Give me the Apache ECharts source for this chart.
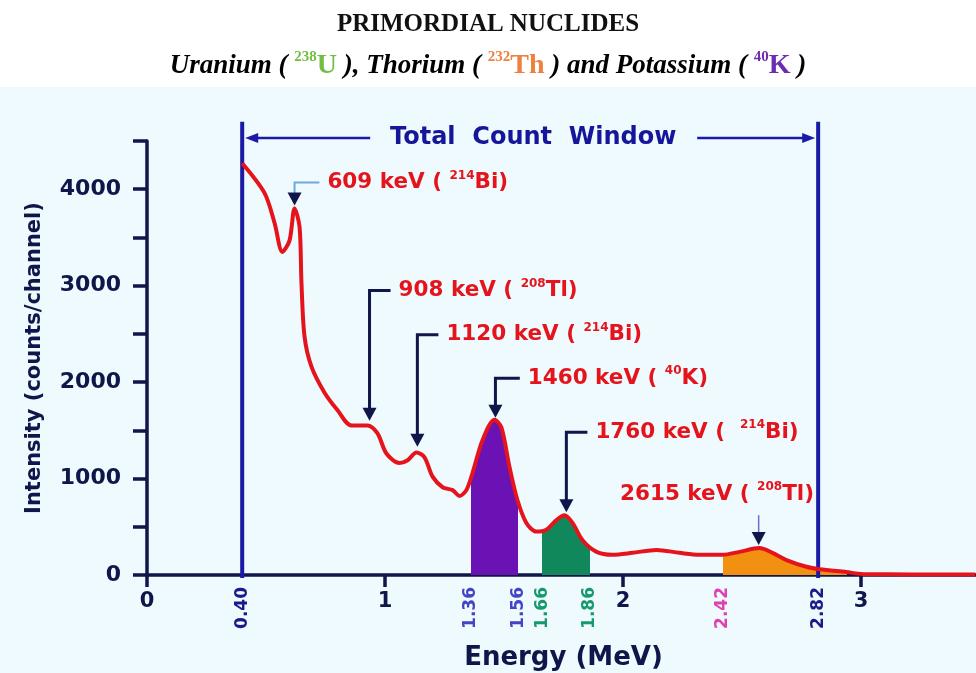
<!DOCTYPE html>
<html><head><meta charset="utf-8">
<script src="https://cdn.jsdelivr.net/npm/echarts@6/dist/echarts.min.js"></script>
<style>html,body{margin:0;padding:0;background:#fff}#main{width:976px;height:673px}</style>
</head><body><div id="main"></div>
<script>
// ---- data ----
const energy = [0.40,0.494,0.536,0.569,0.599,0.620,0.641,0.649,0.662,0.691,0.746,0.800,0.859,0.926,0.968,1.006,1.061,1.095,1.132,1.166,1.200,1.242,1.284,1.313,1.342,1.368,1.410,1.460,1.489,1.523,1.556,1.594,1.636,1.678,1.720,1.754,1.788,1.830,1.889,1.956,2.040,2.141,2.237,2.321,2.418,2.489,2.573,2.628,2.687,2.771,2.826,2.939,3.006,3.48];
const counts = [4270,3960,3650,3350,3470,3800,3610,3030,2470,2160,1890,1710,1550,1550,1470,1260,1160,1190,1270,1220,1020,910,880,820,880,1060,1400,1610,1530,1120,780,540,450,470,570,620,540,360,240,210,230,260,230,210,210,240,280,230,155,85,60,30,10,5];
const totalWindow = [0.40, 2.82];
const kWindow = [1.36, 1.56];
const uWindow = [1.66, 1.86];
const thWindow = [2.42, 2.94];
const xTickValues = [0, 1, 2, 3];
const windowTickValues = [0.40, 1.36, 1.56, 1.66, 1.86, 2.42, 2.82];
const windowTickLabels = ['0.40', '1.36', '1.56', '1.66', '1.86', '2.42', '2.82'];
const windowTickGroups = ['t', 'k', 'k', 'u', 'u', 'th', 't'];
const yTickMax = 4500;
const yTickStep = 500;
const peakLabels = ['609 keV', '908 keV', '1120 keV', '1460 keV', '1760 keV', '2615 keV'];
const peakMass = ['214', '208', '214', '40', '214', '208'];
const peakNuclide = ['Bi', 'Tl', 'Bi', 'K', 'Bi', 'Tl'];
const peakEnergy = [0.62, 0.935, 1.136, 1.464, 1.762, 2.57];
const peakTipCounts = [3830, 1600, 1330, 1630, 650, 310];

// ---- layout (annotation placement, data coordinates) ----
const annLayout = [
  {level: 4070, textX: 0.758, leader: '#6fa8dc', lw: 2},
  {level: 2950, textX: 1.057, leader: '#10154a', lw: 3},
  {level: 2490, textX: 1.258, leader: '#10154a', lw: 3},
  {level: 2040, textX: 1.600, leader: '#10154a', lw: 3},
  {level: 1480, textX: 1.884, leader: '#10154a', lw: 3, gap: '  '},
  {level: 620, textX: 2.395, textY: 840, leader: '#6f6fc8', lw: 1.5, straight: true}
];

const NAVY = '#10154a';
const RED = '#e5141c';
const FONT = '"DejaVu Sans", sans-serif';

const chart = echarts.init(document.getElementById('main'));
const curve = energy.map((e, i) => [e, counts[i]]);

function renderWindow(params, api) {
  const a0 = api.coord([totalWindow[0], -30]), a1 = api.coord([totalWindow[0], 4700]);
  const b0 = api.coord([totalWindow[1], -30]), b1 = api.coord([totalWindow[1], 4700]);
  const ya = api.coord([0, 4530])[1];
  const xm = (a0[0] + b0[0]) / 2 + 3;
  const c = '#1a1aa6';
  return {type: 'group', children: [
    {type: 'line', shape: {x1: a0[0], y1: a0[1], x2: a1[0], y2: a1[1]}, style: {stroke: c, lineWidth: 4}},
    {type: 'line', shape: {x1: b0[0], y1: b0[1], x2: b1[0], y2: b1[1]}, style: {stroke: c, lineWidth: 4}},
    {type: 'line', shape: {x1: a0[0] + 8, y1: ya, x2: xm - 163, y2: ya}, style: {stroke: c, lineWidth: 2.5}},
    {type: 'line', shape: {x1: xm + 164, y1: ya, x2: b0[0] - 8, y2: ya}, style: {stroke: c, lineWidth: 2.5}},
    {type: 'polygon', shape: {points: [[a0[0] + 3, ya], [a0[0] + 16, ya - 5], [a0[0] + 16, ya + 5]]}, style: {fill: c}},
    {type: 'polygon', shape: {points: [[b0[0] - 3, ya], [b0[0] - 16, ya - 5], [b0[0] - 16, ya + 5]]}, style: {fill: c}},
    {type: 'text', x: xm, y: ya, style: {text: 'Total  Count  Window', fill: '#16169a', font: 'bold 24px ' + FONT, align: 'center', verticalAlign: 'middle'}}
  ]};
}

function renderPeaks(params, api) {
  const i = params.dataIndex;
  const L = annLayout[i];
  const tip = api.coord([peakEnergy[i], peakTipCounts[i]]);
  const children = [];
  const text = '{m|' + peakLabels[i] + ' (' + (L.gap || ' ') + '}{s|' + peakMass[i] + '}{m|' + peakNuclide[i] + ')}';
  const rich = {
    m: {fill: RED, color: RED, fontFamily: FONT, fontWeight: 'bold', fontSize: 21.5, lineHeight: 26},
    s: {fill: RED, color: RED, fontFamily: FONT, fontWeight: 'bold', fontSize: 12, lineHeight: 15, verticalAlign: 'top'}
  };
  if (L.straight) {
    const top = api.coord([peakEnergy[i], L.level]);
    children.push({type: 'line', shape: {x1: top[0], y1: top[1], x2: tip[0], y2: tip[1] - 10}, style: {stroke: L.leader, lineWidth: L.lw}});
    const tp = api.coord([L.textX, L.textY]);
    children.push({type: 'text', x: tp[0], y: tp[1], style: {text: text, rich: rich, align: 'center', verticalAlign: 'middle'}});
  } else {
    const lv = api.coord([L.textX, L.level]);
    children.push({type: 'polyline', shape: {points: [[lv[0] - 8, lv[1]], [tip[0], lv[1]], [tip[0], tip[1] - 10]]}, style: {stroke: L.leader, lineWidth: L.lw, fill: null}});
    children.push({type: 'text', x: lv[0], y: lv[1], style: {text: text, rich: rich, align: 'left', verticalAlign: 'middle'}});
  }
  children.push({type: 'polygon', shape: {points: [[tip[0], tip[1]], [tip[0] - 7, tip[1] - 13], [tip[0] + 7, tip[1] - 13]]}, style: {fill: NAVY}});
  return {type: 'group', children: children};
}

const groupColor = {t: '#1a1a8a', k: '#4444c4', u: '#169a6c', th: '#e040b0'};
const supTop = {verticalAlign: 'top', fontSize: 15, fontWeight: 'bold', fontFamily: 'Liberation Serif', lineHeight: 17};
const sub = (color) => Object.assign({}, supTop, {color: color});
const big = (color) => ({fontFamily: 'Liberation Serif', fontSize: 28, color: color, lineHeight: 32});

const option = {
  backgroundColor: '#ffffff',
  animation: false,
  graphic: [{type: 'rect', left: 0, top: 87, silent: true, z: -10, shape: {width: 976, height: 586}, style: {fill: '#eefafd'}}],
  title: [
    {text: 'PRIMORDIAL NUCLIDES', left: 'center', top: 7,
     textStyle: {fontFamily: 'Liberation Serif', fontSize: 25, fontWeight: 'bold', color: '#111'}},
    {text: '{i|Uranium ( }{gs|238}{g|U}{i| ), Thorium ( }{os|232}{o|Th}{i| ) and Potassium ( }{ps|40}{p|K}{i| )}',
     left: 'center', top: 45,
     textStyle: {rich: {
       i: {fontFamily: 'Liberation Serif', fontStyle: 'italic', fontWeight: 'bold', fontSize: 27, color: '#000', lineHeight: 32},
       gs: sub('#72be44'), g: big('#72be44'),
       os: sub('#ee8040'), o: big('#ee8040'),
       ps: sub('#6d2db0'), p: big('#6d2db0')
     }}}
  ],
  grid: {left: 147, top: 141, width: 833, height: 434, outerBoundsMode: 'none', containLabel: false},
  visualMap: {type: 'piecewise', show: false, dimension: 0, seriesIndex: 0,
    pieces: [
      {gte: kWindow[0], lt: kWindow[1], color: '#6a12b4'},
      {gte: uWindow[0], lt: uWindow[1], color: '#11875c'},
      {gte: thWindow[0], lt: thWindow[1], color: '#f29111'}
    ],
    outOfRange: {color: 'rgba(255,255,255,0)'}},
  xAxis: [
    {type: 'value', min: 0, max: 3.5,
     axisLine: {lineStyle: {color: NAVY, width: 3.5}},
     axisTick: {customValues: xTickValues, length: 12, lineStyle: {color: NAVY, width: 3.5}},
     axisLabel: {customValues: xTickValues, margin: 16, color: NAVY, fontFamily: FONT, fontWeight: 'bold', fontSize: 21},
     splitLine: {show: false},
     name: 'Energy (MeV)', nameLocation: 'middle', nameGap: 70,
     nameTextStyle: {color: NAVY, fontFamily: FONT, fontWeight: 'bold', fontSize: 26}},
    {type: 'value', min: 0, max: 3.5, position: 'bottom',
     axisLine: {show: false}, axisTick: {show: false}, splitLine: {show: false},
     axisLabel: {customValues: windowTickValues, rotate: 90, margin: 12, hideOverlap: false,
       formatter: function (v) {
         let k = 0, best = 1e9;
         windowTickValues.forEach((w, j) => { if (Math.abs(w - v) < best) { best = Math.abs(w - v); k = j; } });
         return '{' + windowTickGroups[k] + '|' + windowTickLabels[k] + '}';
       },
       rich: {
         t: {color: groupColor.t, fontFamily: FONT, fontWeight: 'bold', fontSize: 17},
         k: {color: groupColor.k, fontFamily: FONT, fontWeight: 'bold', fontSize: 17},
         u: {color: groupColor.u, fontFamily: FONT, fontWeight: 'bold', fontSize: 17},
         th: {color: groupColor.th, fontFamily: FONT, fontWeight: 'bold', fontSize: 17}
       }}}
  ],
  yAxis: {type: 'value', min: 0, max: yTickMax, interval: yTickStep,
    axisLine: {show: true, lineStyle: {color: NAVY, width: 3.5}},
    axisTick: {show: true, length: 14, lineStyle: {color: NAVY, width: 3.5}},
    axisLabel: {margin: 26, color: NAVY, fontFamily: FONT, fontWeight: 'bold', fontSize: 22,
      formatter: (v) => (v % 1000 === 0 ? String(v) : '')},
    splitLine: {show: false},
    name: 'Intensity (counts/channel)', nameLocation: 'middle', nameGap: 102,
    nameTextStyle: {color: NAVY, fontFamily: FONT, fontWeight: 'bold', fontSize: 21}},
  series: [
    {type: 'line', data: curve, smooth: 0.3, showSymbol: false, symbol: 'none', silent: true, z: 2,
     lineStyle: {width: 0, opacity: 0}, areaStyle: {opacity: 1}},
    {type: 'line', data: curve, smooth: 0.3, showSymbol: false, symbol: 'none', silent: true, z: 4,
     lineStyle: {color: RED, width: 4}},
    {type: 'custom', renderItem: renderWindow, data: [[0, 0]], silent: true, z: 3, clip: false},
    {type: 'custom', renderItem: renderPeaks, data: peakEnergy.map((e, i) => [e, peakTipCounts[i]]), silent: true, z: 5, clip: false}
  ]
};
chart.setOption(option);
</script>
</body></html>
